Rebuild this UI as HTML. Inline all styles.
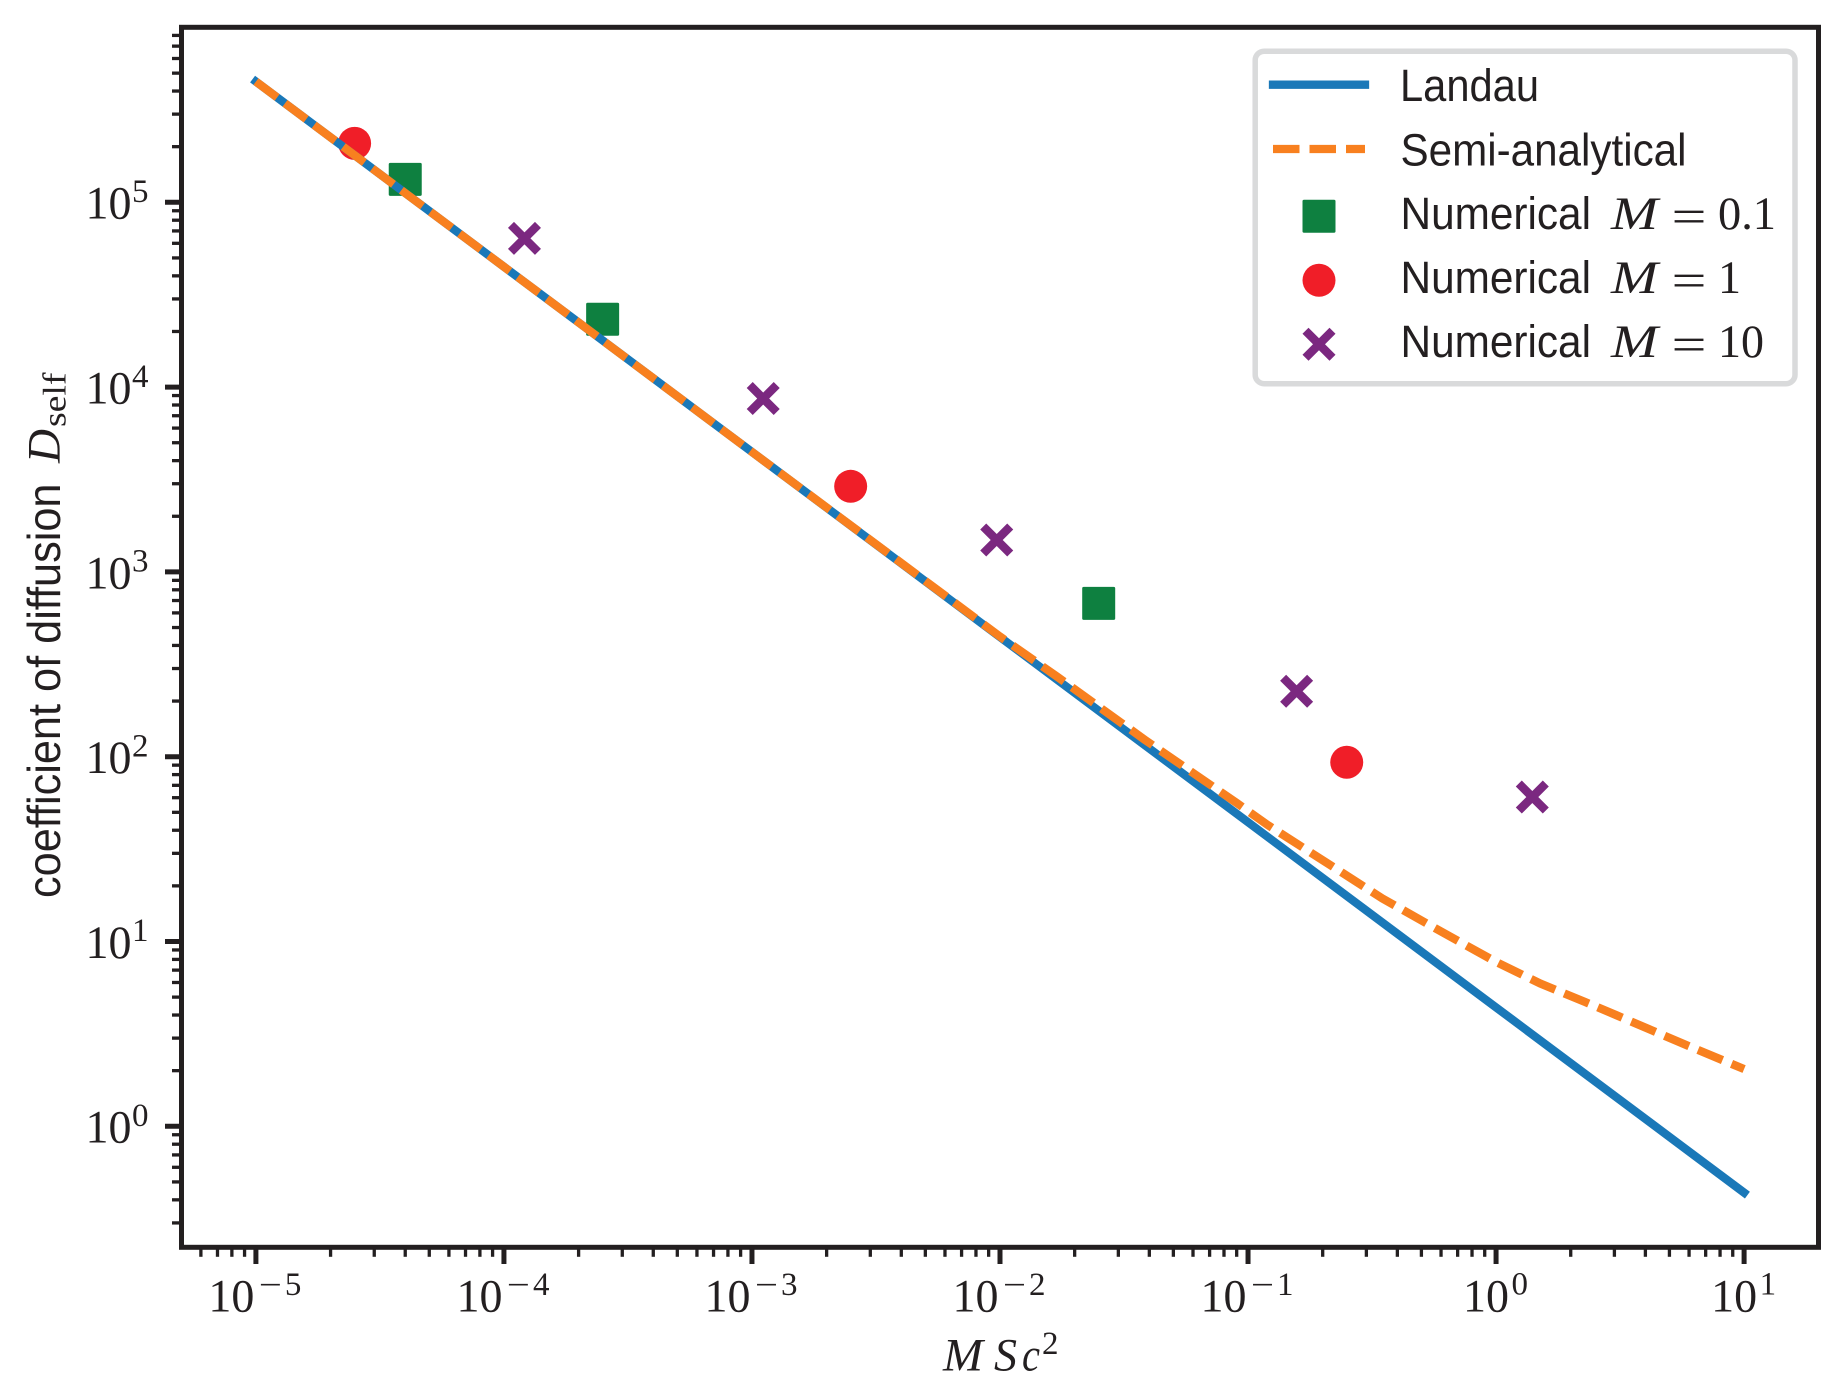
<!DOCTYPE html>
<html lang="en">
<head>
<meta charset="utf-8">
<title>Coefficient of diffusion vs MSc2</title>
<style>
  html, body { margin: 0; padding: 0; background: #ffffff; }
  svg { display: block; }
  text { fill: #231f20; }
  .num { font-family: "Liberation Serif", serif; font-size: 47px; }
  .exp { font-family: "Liberation Serif", serif; font-size: 33px; }
  .ital { font-family: "Liberation Serif", serif; font-style: italic; font-size: 47px; }
  .sans { font-family: "Liberation Sans", sans-serif; font-size: 45px; }
</style>
</head>
<body>
<svg id="chart" xmlns="http://www.w3.org/2000/svg" width="1843" height="1396" viewBox="0 0 1843 1396">
  <rect x="0" y="0" width="1843" height="1396" fill="#ffffff"/>
  <g id="markers"></g>
  <g id="lines"></g>
  <g id="ticks"></g>
  <rect x="181.5" y="27.3" width="1637" height="1220" fill="none" stroke="#231f20" stroke-width="5"/>
  <g id="tick-labels"></g>

  <g>
    <text class="ital" x="943" y="1370.7" textLength="40" lengthAdjust="spacingAndGlyphs">M</text>
    <text class="ital" x="994" y="1370.7" textLength="23" lengthAdjust="spacingAndGlyphs">S</text>
    <text class="ital" x="1022" y="1370.7" textLength="18" lengthAdjust="spacingAndGlyphs">c</text>
    <text class="exp" x="1042" y="1354">2</text>
  </g>

  <g>
    <text class="sans" transform="translate(60,898) rotate(-90)" style="font-size:46px" textLength="414.5" lengthAdjust="spacingAndGlyphs">coefficient of diffusion</text>
    <text class="ital" transform="translate(59.5,463) rotate(-90)" textLength="34" lengthAdjust="spacingAndGlyphs">D</text>
    <text class="exp" transform="translate(65.7,427) rotate(-90)" textLength="54.5" lengthAdjust="spacingAndGlyphs">self</text>
  </g>

  <g>
    <rect x="1255.2" y="51.2" width="539.8" height="332.5" rx="9" ry="9" fill="#ffffff" stroke="#d9dadb" stroke-width="5.5"/>

    <g>
      <line x1="1273" y1="84.7" x2="1365" y2="84.7" stroke="#1a78b8" stroke-width="8.3" stroke-linecap="square"/>
      <text class="sans" x="1400" y="101" textLength="139" lengthAdjust="spacingAndGlyphs">Landau</text>
    </g>
    <g>
      <line x1="1273" y1="149" x2="1365" y2="149" stroke="#f8801f" stroke-width="8.3" stroke-dasharray="26.5 10"/>
      <text class="sans" x="1400.5" y="165.3" textLength="286" lengthAdjust="spacingAndGlyphs">Semi-analytical</text>
    </g>
    <g>
      <rect x="1302.5" y="199.8" width="33" height="33" rx="1.5" fill="#0e8040"/>
      <text class="sans" x="1400.5" y="229" textLength="190.5" lengthAdjust="spacingAndGlyphs">Numerical</text>
      <text class="ital" x="1611" y="229" textLength="47" lengthAdjust="spacingAndGlyphs">M</text>
      <text class="num" x="1671.5" y="232" textLength="35" lengthAdjust="spacingAndGlyphs">=</text>
      <text class="num" x="1718" y="229" textLength="58" lengthAdjust="spacingAndGlyphs">0.1</text>
    </g>
    <g>
      <circle cx="1319" cy="280.3" r="16.5" fill="#f01e28"/>
      <text class="sans" x="1400.5" y="293" textLength="190.5" lengthAdjust="spacingAndGlyphs">Numerical</text>
      <text class="ital" x="1611" y="293" textLength="47" lengthAdjust="spacingAndGlyphs">M</text>
      <text class="num" x="1671.5" y="296" textLength="35" lengthAdjust="spacingAndGlyphs">=</text>
      <text class="num" x="1718" y="293" textLength="23" lengthAdjust="spacingAndGlyphs">1</text>
    </g>
    <g>
      <path d="M1305.5 330.8 L1332.5 357.8 M1332.5 330.8 L1305.5 357.8" fill="none" stroke="#7b2880" stroke-width="8.5"/>
      <text class="sans" x="1400.5" y="357" textLength="190.5" lengthAdjust="spacingAndGlyphs">Numerical</text>
      <text class="ital" x="1611" y="357" textLength="47" lengthAdjust="spacingAndGlyphs">M</text>
      <text class="num" x="1671.5" y="360" textLength="35" lengthAdjust="spacingAndGlyphs">=</text>
      <text class="num" x="1718" y="357" textLength="46" lengthAdjust="spacingAndGlyphs">10</text>
    </g>
  </g>
</svg>

<script>
// Chart data
const landauX = [1e-5, 1e-4, 1e-3, 1e-2, 1e-1, 1, 10];
const landauY = [4.5e5, 4.48e4, 4457, 444, 44.2, 4.4, 0.4375];

const semiX = [1e-5, 1e-4, 1e-3, 1e-2, 0.017, 0.0385, 0.0903, 0.12, 0.348, 0.562, 1, 1.51, 2.29, 3.06, 5.74, 10];
const semiY = [4.5e5, 4.48e4, 4457, 447, 271, 123, 56, 42.7, 17.1, 11.9, 7.75, 5.92, 4.7, 3.99, 2.78, 2.04];

const numM01X = [4e-5, 2.5e-4, 0.025];
const numM01Y = [1.33e5, 2.33e4, 676];

const numM1X = [2.5e-5, 2.5e-3, 0.25];
const numM1Y = [2.085e5, 2905, 93.3];

const numM10X = [1.21e-4, 1.11e-3, 9.7e-3, 0.157, 1.4];
const numM10Y = [6.38e4, 8670, 1488, 226, 60.5];

const xTickExponents = [-5, -4, -3, -2, -1, 0, 1];
const yTickExponents = [0, 1, 2, 3, 4, 5];
const minorMultipliers = [2, 3, 4, 5, 6, 7, 8, 9];
const xMinorDecades = [-6, -5, -4, -3, -2, -1, 0, 1];
const yMinorDecades = [-1, 0, 1, 2, 3, 4, 5];

// Axis functions
const plotLeft = 181.5, plotRight = 1818.5, plotTop = 27.3, plotBottom = 1247.3;
const xLogMin = -5.3, xLogMax = 1.3, yLogMin = -0.6548, yLogMax = 5.9470;

function xScale(v) {
  return plotLeft + (Math.log10(v) - xLogMin) / (xLogMax - xLogMin) * (plotRight - plotLeft);
}
function yScale(v) {
  return plotBottom - (Math.log10(v) - yLogMin) / (yLogMax - yLogMin) * (plotBottom - plotTop);
}

const NS = 'http://www.w3.org/2000/svg';
const markerLayer = document.getElementById('markers');
const lineLayer = document.getElementById('lines');
const tickLayer = document.getElementById('ticks');
const labelLayer = document.getElementById('tick-labels');

function make(tag, parent) {
  const el = document.createElementNS(NS, tag);
  parent.appendChild(el);
  return el;
}

function label(parent, cls, str, x, y, len) {
  const t = make('text', parent);
  t.setAttribute('class', cls);
  t.setAttribute('x', x);
  t.setAttribute('y', y);
  if (len) {
    t.setAttribute('textLength', len);
    t.setAttribute('lengthAdjust', 'spacingAndGlyphs');
  }
  t.textContent = str;
  return t;
}

function pathFrom(xs, ys) {
  return xs.map(function (x, i) {
    return (i === 0 ? 'M' : 'L') + xScale(x).toFixed(2) + ' ' + yScale(ys[i]).toFixed(2);
  }).join(' ');
}

// Markers (below the lines, as in the reference)
numM01X.forEach(function (x, i) {
  const s = make('rect', markerLayer);
  
  
  s.setAttribute('x', xScale(x) - 16.5);
  s.setAttribute('y', yScale(numM01Y[i]) - 16.5);
  s.setAttribute('width', 33);
  s.setAttribute('height', 33);
  s.setAttribute('rx', 1.5);
  s.setAttribute('fill', '#0e8040');
});

numM1X.forEach(function (x, i) {
  const c = make('circle', markerLayer);
  
  
  c.setAttribute('cx', xScale(x));
  c.setAttribute('cy', yScale(numM1Y[i]));
  c.setAttribute('r', 16.5);
  c.setAttribute('fill', '#f01e28');
});

numM10X.forEach(function (x, i) {
  const cx = xScale(x), cy = yScale(numM10Y[i]), d = 13.5;
  const p = make('path', markerLayer);
  
  
  p.setAttribute('d', 'M' + (cx - d) + ' ' + (cy - d) + ' L' + (cx + d) + ' ' + (cy + d) +
    ' M' + (cx + d) + ' ' + (cy - d) + ' L' + (cx - d) + ' ' + (cy + d));
  p.setAttribute('fill', 'none');
  p.setAttribute('stroke', '#7b2880');
  p.setAttribute('stroke-width', 8.5);
});

// Lines
const landauLine = make('path', lineLayer);


landauLine.setAttribute('d', pathFrom(landauX, landauY));
landauLine.setAttribute('fill', 'none');
landauLine.setAttribute('stroke', '#1a78b8');
landauLine.setAttribute('stroke-width', 8.3);
landauLine.setAttribute('stroke-linecap', 'square');

const semiLine = make('path', lineLayer);


semiLine.setAttribute('d', pathFrom(semiX, semiY));
semiLine.setAttribute('fill', 'none');
semiLine.setAttribute('stroke', '#f8801f');
semiLine.setAttribute('stroke-width', 8.3);
semiLine.setAttribute('stroke-dasharray', '26.5 9.8');

// Minor ticks
xMinorDecades.forEach(function (dec) {
  minorMultipliers.forEach(function (m) {
    const px = xScale(m * Math.pow(10, dec));
    if (px <= plotLeft + 2 || px >= plotRight - 2) return;
    const t = make('line', tickLayer);
    
    
    t.setAttribute('x1', px);
    t.setAttribute('x2', px);
    t.setAttribute('y1', plotBottom);
    t.setAttribute('y2', 1256.8);
    t.setAttribute('stroke', '#231f20');
    t.setAttribute('stroke-width', 3.3);
  });
});

yMinorDecades.forEach(function (dec) {
  minorMultipliers.forEach(function (m) {
    const py = yScale(m * Math.pow(10, dec));
    if (py <= plotTop + 2 || py >= plotBottom - 2) return;
    const t = make('line', tickLayer);
    
    
    t.setAttribute('x1', 172);
    t.setAttribute('x2', plotLeft);
    t.setAttribute('y1', py);
    t.setAttribute('y2', py);
    t.setAttribute('stroke', '#231f20');
    t.setAttribute('stroke-width', 3.3);
  });
});

// Major ticks and labels
xTickExponents.forEach(function (e) {
  const px = xScale(Math.pow(10, e));
  const t = make('line', tickLayer);
  
  
  t.setAttribute('x1', px);
  t.setAttribute('x2', px);
  t.setAttribute('y1', plotBottom);
  t.setAttribute('y2', 1264);
  t.setAttribute('stroke', '#231f20');
  t.setAttribute('stroke-width', 5);

  const g = make('g', labelLayer);
  
  
  if (e < 0) {
    label(g, 'num', '10', px - 47.5, 1311.5, 46);
    label(g, 'exp', '\u2212', px + 3, 1295.5, 23);
    label(g, 'exp', String(-e), px + 29, 1295);
  } else {
    label(g, 'num', '10', px - 33, 1311.5, 46);
    label(g, 'exp', String(e), px + 15.5, 1294.5);
  }
});

yTickExponents.forEach(function (e) {
  const py = yScale(Math.pow(10, e));
  const t = make('line', tickLayer);
  
  
  t.setAttribute('x1', 165);
  t.setAttribute('x2', plotLeft);
  t.setAttribute('y1', py);
  t.setAttribute('y2', py);
  t.setAttribute('stroke', '#231f20');
  t.setAttribute('stroke-width', 5);

  const g = make('g', labelLayer);
  
  
  label(g, 'num', '10', 85.5, py + 16.4, 46);
  label(g, 'exp', String(e), 132, py - 0.3);
});
</script>
</body>
</html>
